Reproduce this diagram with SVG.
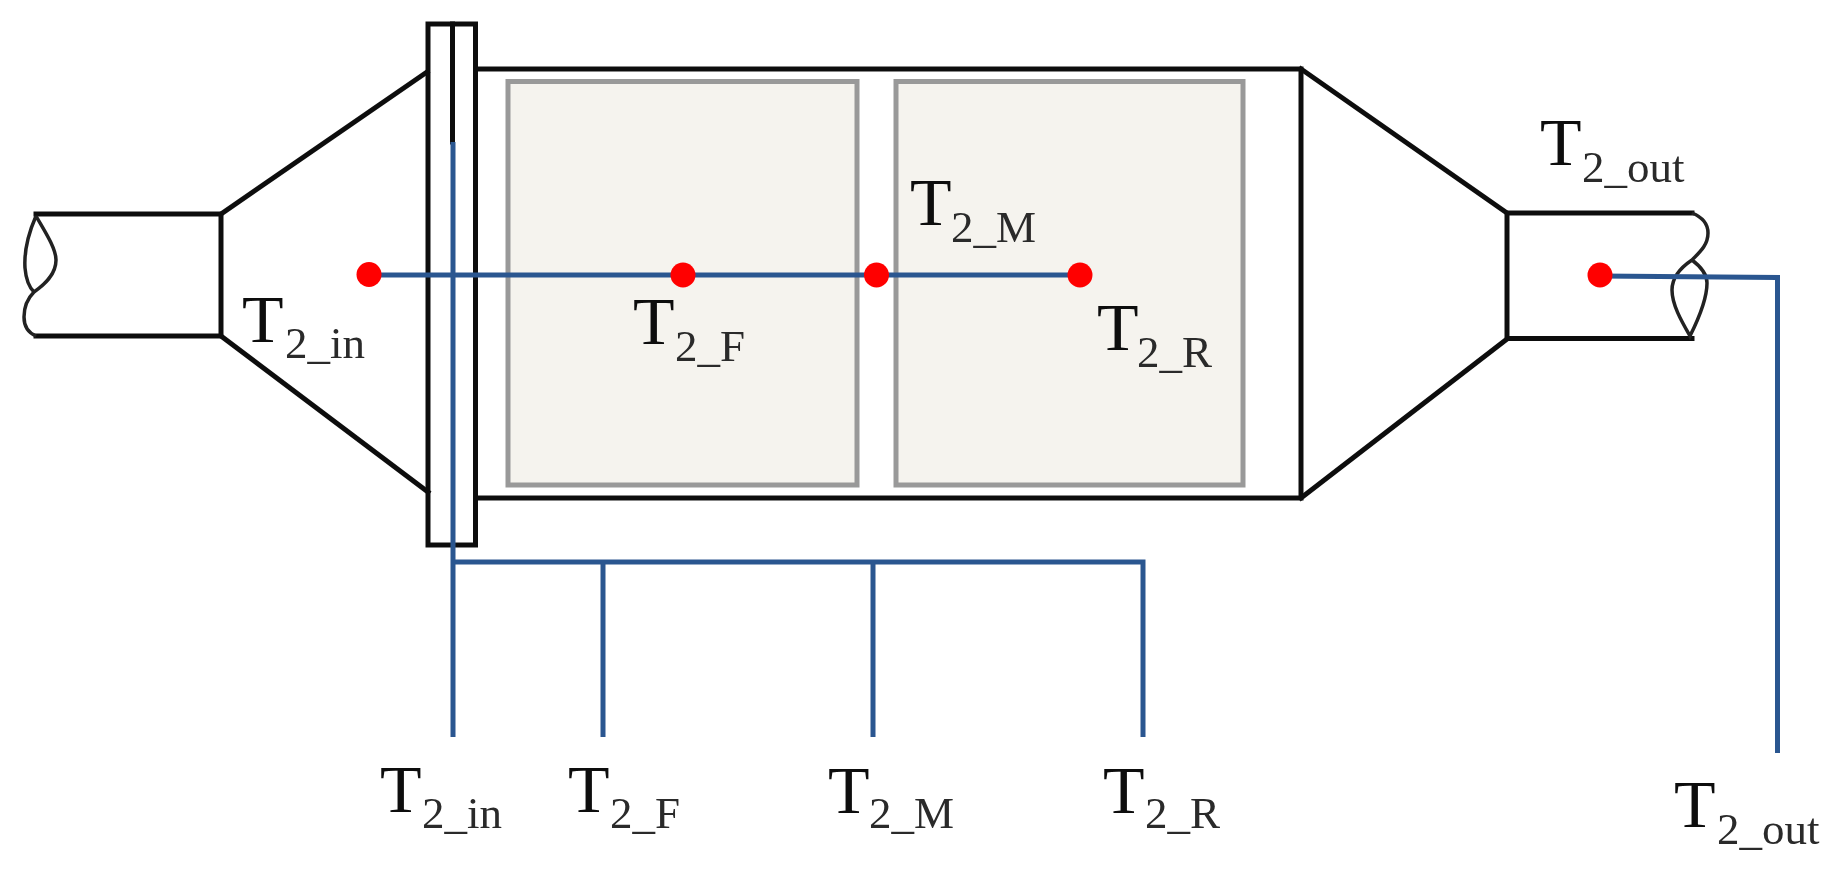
<svg xmlns="http://www.w3.org/2000/svg" width="1840" height="881" viewBox="0 0 1840 881">
<defs><filter id="soft" x="0" y="0" width="1" height="1" filterUnits="objectBoundingBox"><feGaussianBlur stdDeviation="0.7"/></filter></defs>
<style>
.b{fill:none;stroke:#111;stroke-width:5;stroke-linecap:square}
.w{fill:none;stroke:#222;stroke-width:3.500}
.f{fill:#f5f3ee;stroke:#999;stroke-width:5}
.c{fill:none;stroke:#2c5790;stroke-width:5}
.d{fill:#ff0000}
text{font-family:"Liberation Serif","Times New Roman",serif;font-size:68px;fill:#111}
.s{font-size:45px;fill:#2b2b2b}
</style>
<rect width="1840" height="881" fill="#fff"/>
<g filter="url(#soft)">
<rect width="1840" height="881" fill="#fff"/>
<g id="inlet-pipe">
<path class="b" d="M36 214H221V336H36"/>
<path class="w" d="M36 216C29 232 24 252 25 268C26 280 29 287 34 292C44 285 56 275 56 260C56 248 44 230 36 216M34 292C27 299 24 308 24 317C24 327 29 333 36 336"/>
</g>
<g id="inlet-cone"><path class="b" d="M221 214L427 72M221 336L428 492"/></g>
<g id="flange"><rect class="b" x="428" y="24" width="47.500" height="521"/><path class="b" d="M452.500 24V142"/></g>
<g id="body"><path class="b" d="M476 69H1301V498H476"/></g>
<g id="filter-front"><rect class="f" x="508" y="81.500" width="349" height="403.500"/></g>
<g id="filter-rear"><rect class="f" x="896" y="81.500" width="347" height="403.500"/></g>
<g id="outlet-cone"><path class="b" d="M1301 69L1507 213M1301 498L1507 339"/></g>
<g id="outlet-pipe">
<path class="b" d="M1692 213H1507V338.500H1692"/>
<path class="w" d="M1692 213C1702 217 1708 224 1708 233C1708 245 1700 252 1692 260C1680 268 1672 278 1672 290C1672 305 1682 322 1690 336C1698 320 1707 300 1707 283C1707 274 1700 266 1692 260"/>
</g>
<g id="connectors">
<path class="c" d="M369 275H1080"/>
<path class="c" d="M453 142V737"/>
<path class="c" d="M453 562H1143V737"/>
<path class="c" d="M603 562V737"/>
<path class="c" d="M873 562V737"/>
<path class="c" d="M1600 276L1777.500 277.500V753"/>
</g>
<g id="sensor-in"><circle class="d" cx="369" cy="274.500" r="12.500"/><text x="242" y="342">T<tspan class="s" x="285" y="358">2_in</tspan></text></g>
<g id="sensor-f"><circle class="d" cx="683" cy="275" r="12.500"/><text x="633" y="344">T<tspan class="s" x="675" y="361">2_F</tspan></text></g>
<g id="sensor-m"><circle class="d" cx="876.500" cy="275" r="12.500"/><text x="910" y="225">T<tspan class="s" x="951" y="242">2_M</tspan></text></g>
<g id="sensor-r"><circle class="d" cx="1080" cy="275" r="12.500"/><text x="1097" y="350">T<tspan class="s" x="1137" y="367">2_R</tspan></text></g>
<g id="sensor-out"><circle class="d" cx="1600" cy="275" r="12.500"/><text x="1540" y="165">T<tspan class="s" x="1582" y="182">2_out</tspan></text></g>
<g id="out-in"><text x="380" y="812">T<tspan class="s" x="422" y="828">2_in</tspan></text></g>
<g id="out-f"><text x="568" y="812">T<tspan class="s" x="610" y="828">2_F</tspan></text></g>
<g id="out-m"><text x="828" y="813">T<tspan class="s" x="869" y="828">2_M</tspan></text></g>
<g id="out-r"><text x="1103" y="813">T<tspan class="s" x="1145" y="828">2_R</tspan></text></g>
<g id="out-out"><text x="1674" y="827">T<tspan class="s" x="1717" y="844">2_out</tspan></text></g>
</g>
</svg>
